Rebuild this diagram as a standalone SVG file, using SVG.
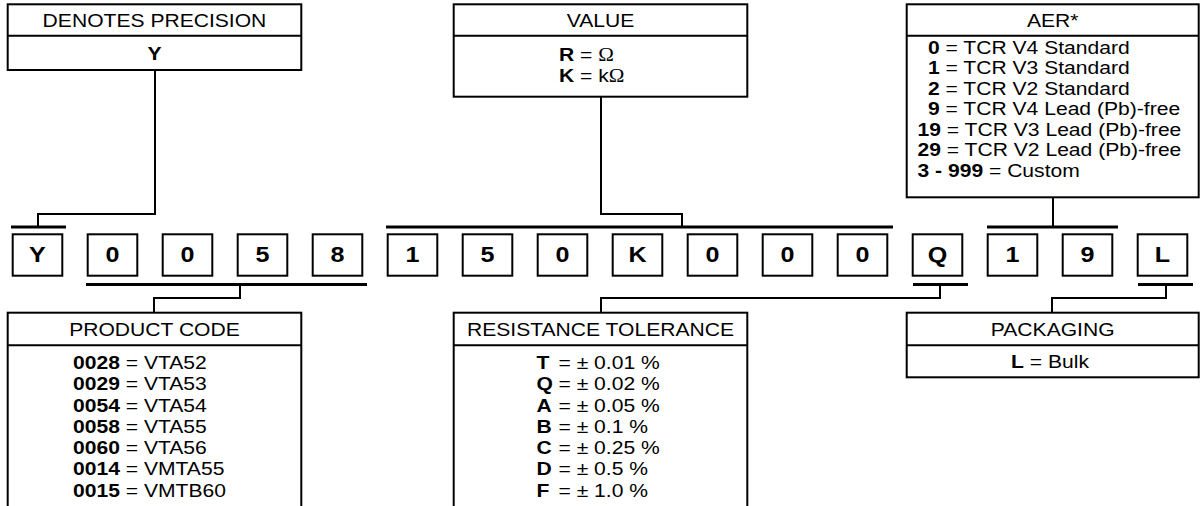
<svg xmlns="http://www.w3.org/2000/svg" width="1201" height="506" viewBox="0 0 1201 506">
<style>
rect.box, line.div { fill: #fff; stroke: #000; stroke-width: 2; }
rect.cell { fill: #fff; stroke: #000; stroke-width: 2; }
.conn path { fill: none; stroke: #000; stroke-width: 2; }
.conn line { stroke: #000; stroke-width: 3; }
text { font-family: "Liberation Sans", Arial, sans-serif; font-size: 18.5px; fill: #000; transform-box: fill-box; }
text.c { text-anchor: middle; transform-origin: center; transform: scaleX(1.14); }
text.l { text-anchor: start; transform-origin: left center; transform: scaleX(1.14); }
text.cell { font-size: 22px; font-weight: bold; }
.b { font-weight: bold; }
.s { font-family: "Liberation Serif", "Times New Roman", serif; }
</style>

<g id="precision">
<rect class="box" x="7.7" y="4.3" width="293.6" height="65.7"/>
<line class="div" x1="7.7" y1="35.7" x2="301.3" y2="35.7"/>
<text class="c" x="154.5" y="27.3">DENOTES PRECISION</text>
<text class="c b" x="154.5" y="60">Y</text>
</g>

<g id="value">
<rect class="box" x="453.7" y="4.3" width="293.6" height="92.4"/>
<line class="div" x1="453.7" y1="35.7" x2="747.3" y2="35.7"/>
<text class="c" x="600.5" y="27.3">VALUE</text>
<text class="l" x="559" y="61"><tspan class="b">R</tspan> = <tspan class="s">Ω</tspan></text>
<text class="l" x="559" y="82"><tspan class="b">K</tspan> = k<tspan class="s">Ω</tspan></text>
</g>

<g id="aer">
<rect class="box" x="906.7" y="4.3" width="292" height="193"/>
<line class="div" x1="906.7" y1="35.7" x2="1198.7" y2="35.7"/>
<text class="c" x="1052.7" y="27.3">AER*</text>
<text class="l" x="928" y="54"><tspan class="b">0</tspan> = TCR V4 Standard</text>
<text class="l" x="928" y="74.5"><tspan class="b">1</tspan> = TCR V3 Standard</text>
<text class="l" x="928" y="95"><tspan class="b">2</tspan> = TCR V2 Standard</text>
<text class="l" x="928" y="115.5"><tspan class="b">9</tspan> = TCR V4 Lead (Pb)-free</text>
<text class="l" x="917.5" y="136"><tspan class="b">19</tspan> = TCR V3 Lead (Pb)-free</text>
<text class="l" x="917.5" y="156.5"><tspan class="b">29</tspan> = TCR V2 Lead (Pb)-free</text>
<text class="l" x="917.5" y="177"><tspan class="b">3 - 999</tspan> = Custom</text>
</g>

<g id="code">
<rect class="cell" x="12.7" y="234.3" width="49.6" height="41.4"/><text class="c cell" x="37.5" y="262.3">Y</text>
<rect class="cell" x="87.7" y="234.3" width="49.6" height="41.4"/><text class="c cell" x="112.5" y="262.3">0</text>
<rect class="cell" x="162.7" y="234.3" width="49.6" height="41.4"/><text class="c cell" x="187.5" y="262.3">0</text>
<rect class="cell" x="237.7" y="234.3" width="49.6" height="41.4"/><text class="c cell" x="262.5" y="262.3">5</text>
<rect class="cell" x="312.7" y="234.3" width="49.6" height="41.4"/><text class="c cell" x="337.5" y="262.3">8</text>
<rect class="cell" x="387.7" y="234.3" width="49.6" height="41.4"/><text class="c cell" x="412.5" y="262.3">1</text>
<rect class="cell" x="462.7" y="234.3" width="49.6" height="41.4"/><text class="c cell" x="487.5" y="262.3">5</text>
<rect class="cell" x="537.7" y="234.3" width="49.6" height="41.4"/><text class="c cell" x="562.5" y="262.3">0</text>
<rect class="cell" x="612.7" y="234.3" width="49.6" height="41.4"/><text class="c cell" x="637.5" y="262.3">K</text>
<rect class="cell" x="687.7" y="234.3" width="49.6" height="41.4"/><text class="c cell" x="712.5" y="262.3">0</text>
<rect class="cell" x="762.7" y="234.3" width="49.6" height="41.4"/><text class="c cell" x="787.5" y="262.3">0</text>
<rect class="cell" x="837.7" y="234.3" width="49.6" height="41.4"/><text class="c cell" x="862.5" y="262.3">0</text>
<rect class="cell" x="912.7" y="234.3" width="49.6" height="41.4"/><text class="c cell" x="937.5" y="262.3">Q</text>
<rect class="cell" x="987.7" y="234.3" width="49.6" height="41.4"/><text class="c cell" x="1012.5" y="262.3">1</text>
<rect class="cell" x="1062.7" y="234.3" width="49.6" height="41.4"/><text class="c cell" x="1087.5" y="262.3">9</text>
<rect class="cell" x="1137.7" y="234.3" width="49.6" height="41.4"/><text class="c cell" x="1162.5" y="262.3">L</text>
</g>

<g id="product">
<rect class="box" x="7.7" y="312.7" width="293.6" height="210"/>
<line class="div" x1="7.7" y1="345.3" x2="301.3" y2="345.3"/>
<text class="c" x="154.5" y="335.7">PRODUCT CODE</text>
<text class="l" x="73" y="369.3"><tspan class="b">0028</tspan> = VTA52</text>
<text class="l" x="73" y="390.5"><tspan class="b">0029</tspan> = VTA53</text>
<text class="l" x="73" y="411.7"><tspan class="b">0054</tspan> = VTA54</text>
<text class="l" x="73" y="432.9"><tspan class="b">0058</tspan> = VTA55</text>
<text class="l" x="73" y="454.1"><tspan class="b">0060</tspan> = VTA56</text>
<text class="l" x="73" y="475.3"><tspan class="b">0014</tspan> = VMTA55</text>
<text class="l" x="73" y="496.5"><tspan class="b">0015</tspan> = VMTB60</text>
</g>

<g id="tolerance">
<rect class="box" x="453.7" y="312.7" width="293.6" height="210"/>
<line class="div" x1="453.7" y1="345.3" x2="747.3" y2="345.3"/>
<text class="c" x="600.5" y="335.7">RESISTANCE TOLERANCE</text>
<text class="l b" x="536.5" y="369">T</text><text class="l" x="558.5" y="369">= ± 0.01 %</text>
<text class="l b" x="536.5" y="390.3">Q</text><text class="l" x="558.5" y="390.3">= ± 0.02 %</text>
<text class="l b" x="536.5" y="411.6">A</text><text class="l" x="558.5" y="411.6">= ± 0.05 %</text>
<text class="l b" x="536.5" y="432.9">B</text><text class="l" x="558.5" y="432.9">= ± 0.1 %</text>
<text class="l b" x="536.5" y="454.2">C</text><text class="l" x="558.5" y="454.2">= ± 0.25 %</text>
<text class="l b" x="536.5" y="475.5">D</text><text class="l" x="558.5" y="475.5">= ± 0.5 %</text>
<text class="l b" x="536.5" y="496.8">F</text><text class="l" x="558.5" y="496.8">= ± 1.0 %</text>
</g>

<g id="packaging">
<rect class="box" x="906.7" y="312.7" width="292" height="64.6"/>
<line class="div" x1="906.7" y1="345.3" x2="1198.7" y2="345.3"/>
<text class="c" x="1052.7" y="335.7">PACKAGING</text>
<text class="c" x="1050" y="368.3"><tspan class="b">L</tspan> = Bulk</text>
</g>

<g id="connectors" class="conn">
<line x1="11" y1="227" x2="66" y2="227"/>
<line x1="386" y1="227" x2="893" y2="227"/>
<line x1="987" y1="227" x2="1118" y2="227"/>
<line x1="86" y1="284.5" x2="367" y2="284.5"/>
<line x1="913" y1="284.5" x2="968" y2="284.5"/>
<line x1="1138" y1="284.5" x2="1193" y2="284.5"/>
<path d="M155 70 V214 H38 V227"/>
<path d="M601 96.7 V214 H682 V227"/>
<path d="M1053 197.3 V227"/>
<path d="M240 284.5 V298 H154 V312.7"/>
<path d="M940 284.5 V298 H601 V312.7"/>
<path d="M1166 284.5 V298 H1052 V312.7"/>
</g>
</svg>
